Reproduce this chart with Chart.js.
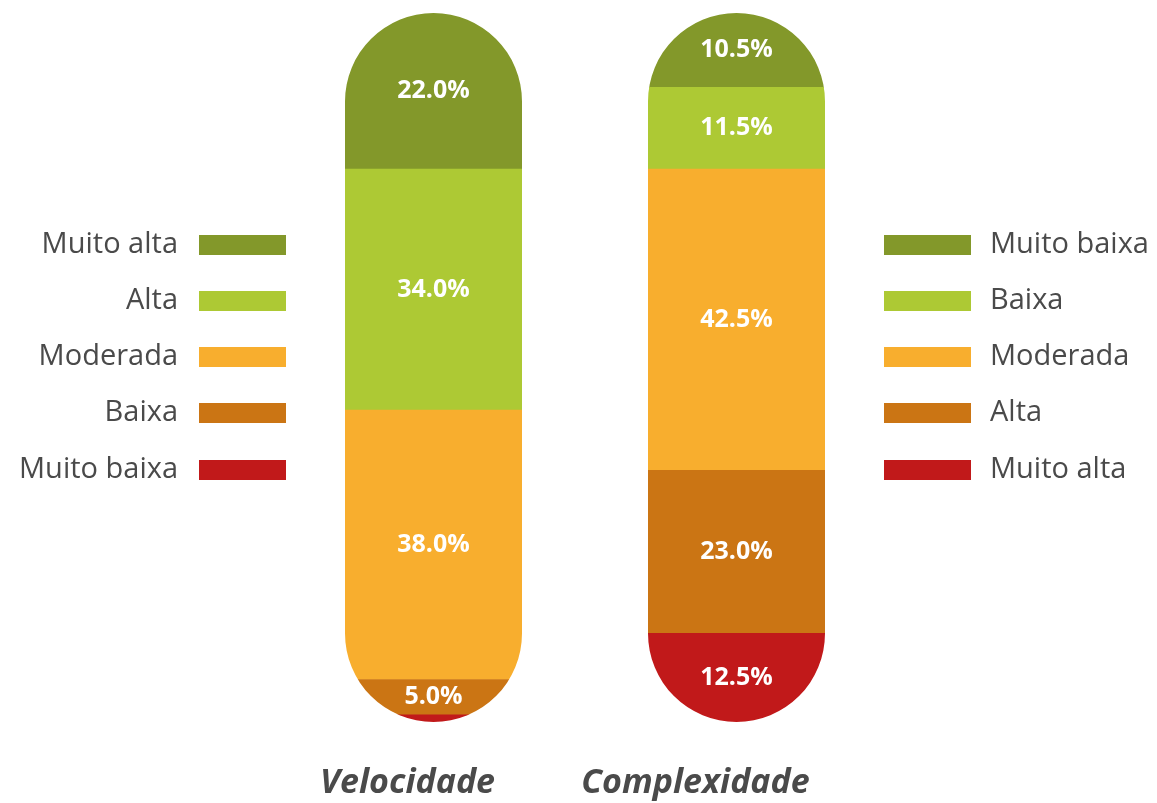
<!DOCTYPE html>
<html>
<head>
<meta charset="utf-8">
<script src="https://cdn.jsdelivr.net/npm/chart.js@4"></script>
<style>
  html, body { margin: 0; padding: 0; background: #fff; }
  #wrap { width: 1157px; height: 803px; }
</style>
</head>
<body>
<div id="wrap"><canvas id="chart"></canvas></div>
<script>
// categories (bars)
const categories = ['Velocidade', 'Complexidade'];

// stacks from top to bottom of each bar
const velocidadeLabels = ['Muito alta', 'Alta', 'Moderada', 'Baixa', 'Muito baixa'];
const complexidadeLabels = ['Muito baixa', 'Baixa', 'Moderada', 'Alta', 'Muito alta'];
const velocidadeValues = [22.0, 34.0, 38.0, 5.0, 1.0];
const complexidadeValues = [10.5, 11.5, 42.5, 23.0, 12.5];
const levelColors = ['#83982a', '#adc934', '#f8ae2e', '#cb7514', '#c1191a'];

const textGray = '#4a4a4a';

// stacked bars draw first dataset at the bottom, so build them reversed
const datasets = [];
for (let i = levelColors.length - 1; i >= 0; i--) {
    datasets.push({
        label: velocidadeLabels[i] + ' / ' + complexidadeLabels[i],
        data: [velocidadeValues[i], complexidadeValues[i]],
        backgroundColor: levelColors[i],
        borderWidth: 0,
        barThickness: 177
    });
}

// clip every bar to a pill shape
const pillClip = {
    id: 'pillClip',
    beforeDatasetsDraw(chart) {
        const ctx = chart.ctx;
        const y = chart.scales.y;
        const top = y.getPixelForValue(100);
        const bottom = y.getPixelForValue(0);
        const meta = chart.getDatasetMeta(0);
        ctx.save();
        ctx.beginPath();
        meta.data.forEach((bar) => {
            const w = bar.width;
            ctx.roundRect(bar.x - w / 2, top, w, bottom - top, w / 2);
        });
        ctx.clip();
    },
    afterDatasetsDraw(chart) {
        chart.ctx.restore();
    }
};

// percentage labels inside the segments
const valueLabels = {
    id: 'valueLabels',
    afterDatasetsDraw(chart) {
        const ctx = chart.ctx;
        ctx.save();
        ctx.fillStyle = '#fff';
        ctx.font = 'bold 25px "Open Sans"';
        ctx.textAlign = 'center';
        ctx.textBaseline = 'middle';
        chart.data.datasets.forEach((ds, di) => {
            chart.getDatasetMeta(di).data.forEach((bar, i) => {
                const v = ds.data[i];
                if (v < 3) return;
                ctx.fillText(v.toFixed(1) + '%', bar.x, (bar.y + bar.base) / 2);
            });
        });
        ctx.restore();
    }
};

// category names under the bars (slightly left of centre, as in the original)
const categoryNames = {
    id: 'categoryNames',
    afterDraw(chart) {
        const ctx = chart.ctx;
        const x = chart.scales.x;
        const shift = [-26, -41];
        ctx.save();
        ctx.fillStyle = textGray;
        ctx.font = 'italic bold 34px "Open Sans"';
        ctx.textAlign = 'center';
        ctx.textBaseline = 'middle';
        categories.forEach((c, i) => {
            ctx.fillText(c, x.getPixelForValue(i) + shift[i], 783);
        });
        ctx.restore();
    }
};

// two side legends
const sideLegends = {
    id: 'sideLegends',
    afterDraw(chart) {
        const ctx = chart.ctx;
        ctx.save();
        ctx.font = '29px "Open Sans"';
        ctx.fillStyle = textGray;
        ctx.textBaseline = 'middle';
        const rowY = [245, 301, 357, 413, 470];
        levelColors.forEach((c, i) => {
            const y = rowY[i];
            ctx.fillStyle = c;
            ctx.fillRect(199, y - 10, 87, 20);
            ctx.fillRect(884, y - 10, 87, 20);
            ctx.fillStyle = textGray;
            ctx.textAlign = 'right';
            ctx.fillText(velocidadeLabels[i], 178, y);
            ctx.textAlign = 'left';
            ctx.fillText(complexidadeLabels[i], 990, y);
        });
        ctx.restore();
    }
};

new Chart(document.getElementById('chart'), {
    type: 'bar',
    data: { labels: categories, datasets: datasets },
    options: {
        responsive: true,
        maintainAspectRatio: false,
        animation: false,
        layout: { padding: { left: 282, right: 269, top: 13, bottom: 81 } },
        plugins: { legend: { display: false }, tooltip: { enabled: false } },
        scales: {
            x: {
                stacked: true,
                display: false
            },
            y: {
                stacked: true,
                display: false,
                min: 0,
                max: 100
            }
        }
    },
    plugins: [pillClip, valueLabels, categoryNames, sideLegends]
});
</script>
</body>
</html>
